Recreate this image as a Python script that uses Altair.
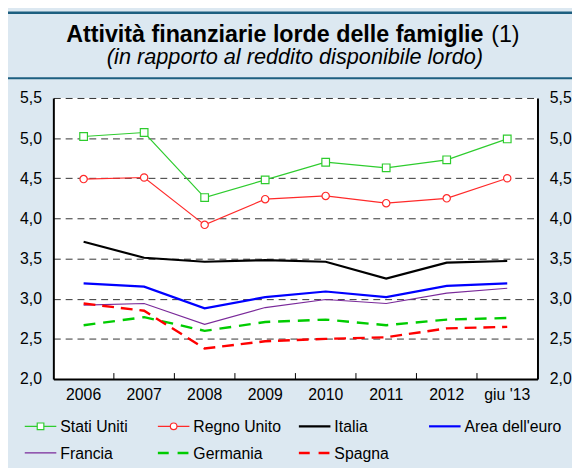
import altair as alt
import pandas as pd

periods = ["2006", "2007", "2008", "2009", "2010", "2011", "2012", "giu '13"]
series_names = ["Stati Uniti", "Regno Unito", "Italia", "Area dell'euro", "Francia", "Germania", "Spagna"]

stati_uniti = [5.02, 5.07, 4.26, 4.48, 4.70, 4.63, 4.73, 4.99]
regno_unito = [4.49, 4.51, 3.92, 4.24, 4.28, 4.19, 4.25, 4.50]
italia = [3.71, 3.51, 3.46, 3.48, 3.46, 3.25, 3.45, 3.47]
area_euro = [3.19, 3.15, 2.88, 3.02, 3.09, 3.02, 3.16, 3.19]
francia = [2.92, 2.94, 2.68, 2.89, 2.99, 2.94, 3.07, 3.13]
germania = [2.67, 2.77, 2.60, 2.71, 2.74, 2.67, 2.74, 2.76]
spagna = [2.94, 2.85, 2.38, 2.47, 2.50, 2.52, 2.63, 2.65]

y_ticks = [2.0, 2.5, 3.0, 3.5, 4.0, 4.5, 5.0, 5.5]

all_values = [stati_uniti, regno_unito, italia, area_euro, francia, germania, spagna]
rows = []
for name, vals in zip(series_names, all_values):
    for p, v in zip(periods, vals):
        rows.append({"periodo": p, "serie": name, "valore": v})
df = pd.DataFrame(rows)

FONT = "Liberation Sans"
W, H = 491, 285
BG = "#dce8f1"
TEAL = "#1d5f80"

styles = {
    "Stati Uniti": dict(color="#2ecc2e", width=1.2, dash=None, marker="square"),
    "Regno Unito": dict(color="#ff2a2a", width=1.2, dash=None, marker="circle"),
    "Italia": dict(color="#000000", width=2.2, dash=None, marker=None),
    "Area dell'euro": dict(color="#0000ff", width=2.2, dash=None, marker=None),
    "Francia": dict(color="#7a2a9a", width=1.2, dash=None, marker=None),
    "Germania": dict(color="#00cc00", width=2.4, dash=[12, 8], marker=None),
    "Spagna": dict(color="#ff0000", width=2.4, dash=[12, 7], marker=None),
}
draw_order = ["Francia", "Germania", "Area dell'euro", "Italia", "Spagna", "Regno Unito", "Stati Uniti"]

comma = "replace(format(datum.value, '.1f'), '.', ',')"

x_scale = alt.Scale(type="band", domain=periods, paddingInner=0, paddingOuter=0)
x_axis = alt.Axis(title=None, labelFontSize=16, labelColor="black", labelFont=FONT,
                  domainColor="black", domainWidth=2, ticks=False, labelPadding=8,
                  labelAngle=0, grid=False)
y_scale = alt.Scale(domain=[2.0, 5.5], nice=False, zero=False)
y_axis_left = alt.Axis(title=None, values=y_ticks, labelExpr=comma, labelFontSize=16,
                       labelColor="black", labelFont=FONT, domainColor="black",
                       domainWidth=2, ticks=False, labelPadding=12, grid=True,
                       gridDash=[7, 5], gridColor="#333333", gridWidth=1, orient="left")
y_axis_right = alt.Axis(title=None, values=y_ticks, labelExpr=comma, labelFontSize=16,
                        labelColor="black", labelFont=FONT, domainColor="black",
                        domainWidth=2, ticks=False, labelPadding=12, grid=False,
                        orient="right")


def xenc(bp):
    return alt.X("periodo:N", sort=periods, bandPosition=bp, scale=x_scale, axis=x_axis)


def yenc(axis):
    return alt.Y("valore:Q", scale=y_scale, axis=axis)


layers = []
for name in draw_order:
    st = styles[name]
    sub = alt.Chart(df[df["serie"] == name])
    line_kwargs = dict(color=st["color"], strokeWidth=st["width"])
    if st["dash"]:
        line_kwargs["strokeDash"] = st["dash"]
    layers.append(sub.mark_line(**line_kwargs).encode(x=xenc(0.5), y=yenc(y_axis_left)))
    if st["marker"]:
        size = 60 if st["marker"] == "square" else 55
        layers.append(sub.mark_point(shape=st["marker"], filled=True, fill="white",
                                     stroke=st["color"], strokeWidth=1.2, size=size, opacity=1)
                      .encode(x=xenc(0.5), y=yenc(y_axis_left)))

# tick marks between categories (band boundaries), pointing up
tick_df = pd.DataFrame({"periodo": periods[1:]})
ticks = alt.Chart(tick_df).mark_rule(color="black", strokeWidth=1).encode(
    x=xenc(0), y=alt.value(H - 6), y2=alt.value(H))
layers.append(ticks)

inner = alt.layer(*layers)

right_axis = alt.Chart(df).mark_line(opacity=0).encode(
    x=xenc(0.5), y=yenc(y_axis_right), detail="serie:N")

# decorations: title, lines, legend
one = pd.DataFrame({"k": [0]})
deco = []
deco.append(alt.Chart(one).mark_rule(color=TEAL, strokeWidth=2.5).encode(
    x=alt.value(-46), x2=alt.value(530), y=alt.value(-86.5)))
deco.append(alt.Chart(one).mark_rule(color=TEAL, strokeWidth=2).encode(
    x=alt.value(-46), x2=alt.value(530), y=alt.value(-20)))
deco.append(alt.Chart(one).mark_text(text="Attività finanziarie lorde delle famiglie", font=FONT,
                                     fontSize=23.6, fontWeight="bold", align="left",
                                     baseline="alphabetic", color="black").encode(
    x=alt.value(13), y=alt.value(-57)))
deco.append(alt.Chart(one).mark_text(text="(1)", font=FONT, fontSize=23.6, align="left",
                                     baseline="alphabetic", color="black").encode(
    x=alt.value(444), y=alt.value(-57)))
deco.append(alt.Chart(one).mark_text(text="(in rapporto al reddito disponibile lordo)", font=FONT,
                                     fontSize=22, fontStyle="italic", align="center",
                                     baseline="alphabetic", color="black").encode(
    x=alt.value(245), y=alt.value(-34)))

legend_slots = {
    "Stati Uniti": (-29, 333), "Regno Unito": (106, 333), "Italia": (249, 333),
    "Area dell'euro": (381, 333), "Francia": (-29, 360), "Germania": (106, 360),
    "Spagna": (249, 360),
}
for name in series_names:
    st = styles[name]
    x0, yy = legend_slots[name]
    kw = dict(color=st["color"], strokeWidth=st["width"])
    if st["dash"]:
        kw["strokeDash"] = [11, 9]
    deco.append(alt.Chart(one).mark_rule(**kw).encode(
        x=alt.value(x0), x2=alt.value(x0 + 32), y=alt.value(yy)))
    if st["marker"]:
        deco.append(alt.Chart(one).mark_point(shape=st["marker"], filled=True, fill="white",
                                              stroke=st["color"], strokeWidth=1.2, size=45,
                                              opacity=1).encode(
            x=alt.value(x0 + 16), y=alt.value(yy)))
    deco.append(alt.Chart(one).mark_text(text=name, font=FONT, fontSize=16, align="left",
                                         baseline="middle", color="black").encode(
        x=alt.value(x0 + 36), y=alt.value(yy + 1)))

chart = alt.layer(inner, right_axis, *deco).resolve_axis(y="independent").properties(
    width=W, height=H,
    background=BG,
    padding={"left": 46, "top": 88, "right": 35, "bottom": 87},
    autosize=alt.AutoSizeParams(type="none"),
).configure_view(stroke=None, fill="white")

chart.save("out.html", embed_options={"renderer": "svg", "actions": False})
